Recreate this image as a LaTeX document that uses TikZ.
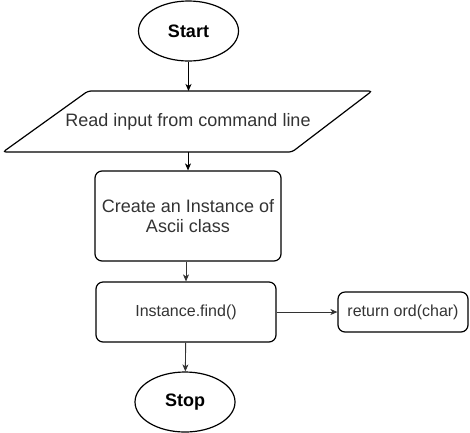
\documentclass[tikz,border=0pt]{standalone}
\usepackage{fontspec}
\setmainfont{Liberation Sans}
\usetikzlibrary{shapes.geometric,arrows.meta}
\definecolor{txt}{HTML}{333333}
\definecolor{lnk}{HTML}{333333}
\begin{document}
\begin{tikzpicture}[x=1pt,y=-1pt,
  shapeline/.style={draw=black,line width=1.2pt},
  term/.style={shapeline,ellipse,minimum width=100pt,minimum height=60pt,inner sep=0pt,font=\fontsize{18}{20}\selectfont\bfseries},
  box/.style={shapeline,rounded corners=7pt,inner sep=0pt,text=txt},
  link/.style={draw=lnk,line width=0.9pt,-{Stealth[length=7pt,width=6pt,inset=2pt]}}]
\useasboundingbox (0,0) rectangle (470,432);
\node[term] (start) at (188.5,31) {Start};
\draw[shapeline,rounded corners=3pt] (88,91) -- (372,91) -- (292,152) -- (3,152) -- cycle;
\node[text=txt,font=\fontsize{18}{20}\selectfont] (read) at (188,121.5) {Read input from command line};
\coordinate (readtop) at (188.5,91);
\coordinate (readbot) at (188,152);
\node[box,minimum width=186pt,minimum height=90pt,align=center,font=\fontsize{18}{20}\selectfont] (create) at (188,216) {Create an Instance of\\Ascii class};
\node[box,minimum width=180pt,minimum height=60pt,font=\fontsize{16}{18}\selectfont] (find) at (186,312) {Instance.find()};
\node[box,minimum width=130pt,minimum height=40pt,font=\fontsize{16}{18}\selectfont] (ret) at (403,312) {return ord(char)};
\node[term] (stop) at (185,402) {Stop};
\draw[link,draw=black] (start) -- (readtop);
\draw[link,draw=black] (readbot) -- (create.north -| readbot);
\draw[link] (create.south -| find) -- (find);
\draw[link] (find) -- (ret);
\draw[link] (find) -- (stop);
\end{tikzpicture}
\end{document}
